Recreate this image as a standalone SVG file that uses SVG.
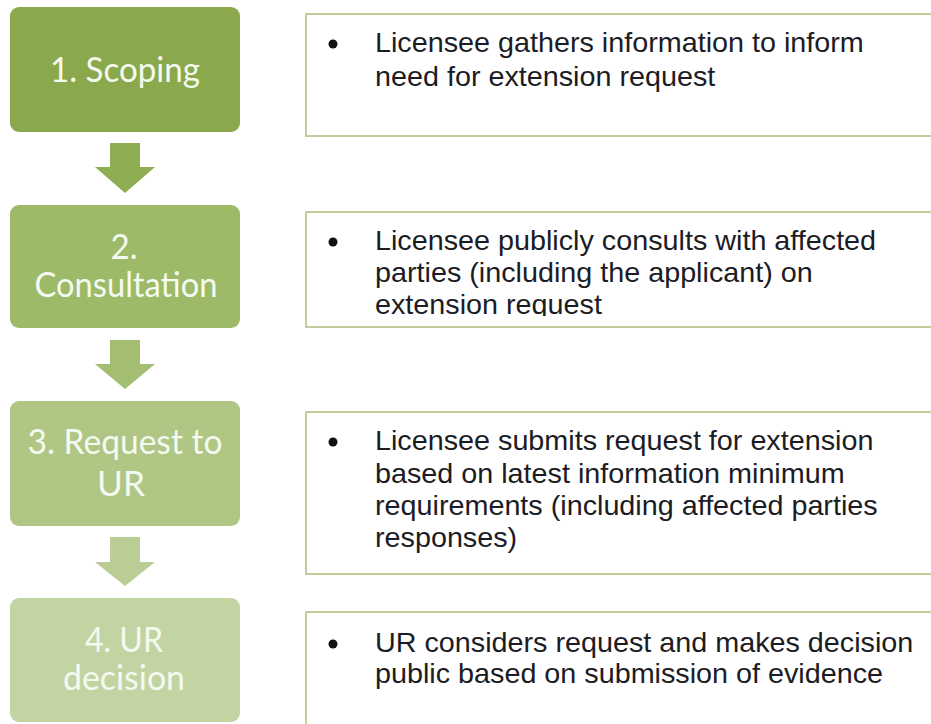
<svg xmlns="http://www.w3.org/2000/svg" width="931" height="724" viewBox="0 0 931 724">
  <style>
    .step { stroke: none; }
    .lbl { font-family: Lato, "Open Sans", "Liberation Sans", sans-serif; font-size: 34px; fill: #f4faf0; text-anchor: middle; }
    .desc { fill: #ffffff; stroke: #c5cc9c; stroke-width: 2; }
    .rt { font-family: "Liberation Sans", Arial, sans-serif; font-size: 27px; fill: #1c1c24; }
    .bul { fill: #111111; }
  </style>
  <defs>
    <clipPath id="clip2"><rect x="306" y="213" width="630" height="103"/></clipPath>
  </defs>

  <g id="connectors">
    <polygon fill="#8fad52" points="110,143 140,143 140,167 155,167 125,193 95,167 110,167"/>
    <polygon fill="#a3bd72" points="110,340 140,340 140,364 155,364 125,389 95,364 110,364"/>
    <polygon fill="#bacd95" points="110,537 140,537 140,562 155,562 125,586 95,562 110,562"/>
  </g>

  <g id="step1">
    <rect class="step" x="10" y="7" width="230" height="125" rx="9" fill="#8aa84c"/>
    <text class="lbl" x="125" y="82" textLength="150" lengthAdjust="spacingAndGlyphs">1. Scoping</text>
  </g>
  <g id="step2">
    <rect class="step" x="10" y="205" width="230" height="123" rx="9" fill="#9dba68"/>
    <text class="lbl" x="124" y="259" textLength="27" lengthAdjust="spacingAndGlyphs">2.</text>
    <text class="lbl" x="126" y="297" textLength="183" lengthAdjust="spacingAndGlyphs">Consultation</text>
  </g>
  <g id="step3">
    <rect class="step" x="10" y="401" width="230" height="125" rx="9" fill="#afc685"/>
    <text class="lbl" x="125" y="454" textLength="195" lengthAdjust="spacingAndGlyphs">3. Request to</text>
    <text class="lbl" x="121" y="496" textLength="48" lengthAdjust="spacingAndGlyphs">UR</text>
  </g>
  <g id="step4">
    <rect class="step" x="10" y="598" width="230" height="124" rx="9" fill="#c3d4a3"/>
    <text class="lbl" x="124" y="652" textLength="78" lengthAdjust="spacingAndGlyphs">4. UR</text>
    <text class="lbl" x="124" y="690" textLength="122" lengthAdjust="spacingAndGlyphs">decision</text>
  </g>

  <g id="desc1">
    <rect class="desc" x="306" y="14" width="640" height="122"/>
    <circle class="bul" cx="333" cy="44" r="4.5"/>
    <g transform="translate(375 0) scale(1.065 1)">
      <text class="rt" x="0" y="52">Licensee gathers information to inform</text>
      <text class="rt" x="0" y="86">need for extension request</text>
    </g>
  </g>
  <g id="desc2">
    <rect class="desc" x="306" y="212" width="640" height="115"/>
    <circle class="bul" cx="333" cy="242" r="4.5"/>
    <g clip-path="url(#clip2)">
      <g transform="translate(375 0) scale(1.065 1)">
        <text class="rt" x="0" y="250">Licensee publicly consults with affected</text>
        <text class="rt" x="0" y="282">parties (including the applicant) on</text>
        <text class="rt" x="0" y="314">extension request</text>
      </g>
    </g>
  </g>
  <g id="desc3">
    <rect class="desc" x="306" y="412" width="640" height="162"/>
    <circle class="bul" cx="333" cy="442" r="4.5"/>
    <g transform="translate(375 0) scale(1.065 1)">
      <text class="rt" x="0" y="450">Licensee submits request for extension</text>
      <text class="rt" x="0" y="483">based on latest information minimum</text>
      <text class="rt" x="0" y="515">requirements (including affected parties</text>
      <text class="rt" x="0" y="547">responses)</text>
    </g>
  </g>
  <g id="desc4">
    <rect class="desc" x="306" y="612" width="640" height="130"/>
    <circle class="bul" cx="333" cy="644" r="4.5"/>
    <g transform="translate(375 0) scale(1.065 1)">
      <text class="rt" x="0" y="652">UR considers request and makes decision</text>
      <text class="rt" x="0" y="683">public based on submission of evidence</text>
    </g>
  </g>
</svg>
